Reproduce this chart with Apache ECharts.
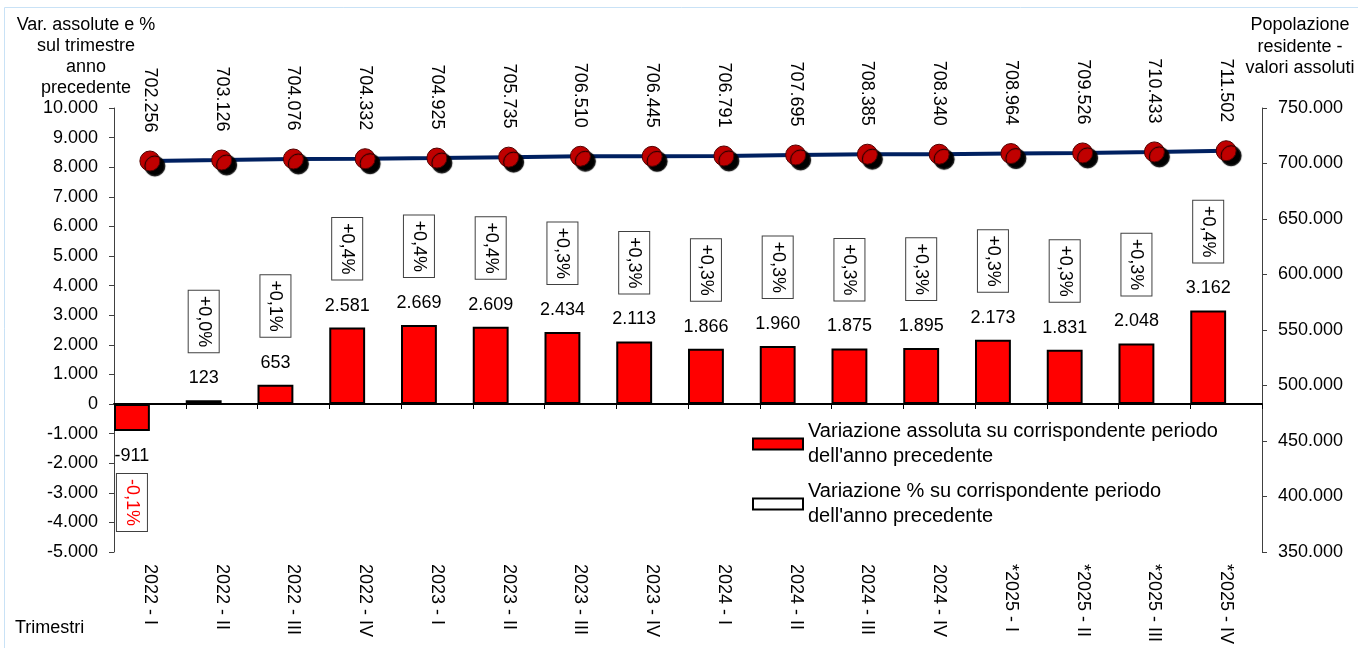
<!DOCTYPE html>
<html><head><meta charset="utf-8">
<script src="https://cdn.jsdelivr.net/npm/echarts@6/dist/echarts.min.js"></script>
<style>html,body{margin:0;padding:0;background:#fff}#c{width:1358px;height:648px}</style>
</head><body><div id="c"></div>
<script>
const categories = ['2022 - I','2022 - II','2022 - III','2022 - IV','2023 - I','2023 - II','2023 - III','2023 - IV','2024 - I','2024 - II','2024 - III','2024 - IV','*2025 - I','*2025 - II','*2025 - III','*2025 - IV'];
const absChange = [-911, 123, 653, 2581, 2669, 2609, 2434, 2113, 1866, 1960, 1875, 1895, 2173, 1831, 2048, 3162];
const pctChange = [-0.1, 0.0, 0.1, 0.4, 0.4, 0.4, 0.3, 0.3, 0.3, 0.3, 0.3, 0.3, 0.3, 0.3, 0.3, 0.4];
const population = [702256, 703126, 704076, 704332, 704925, 705735, 706510, 706445, 706791, 707695, 708385, 708340, 708964, 709526, 710433, 711502];
const leftAxis = {min: -5000, max: 10000, interval: 1000};
const rightAxis = {min: 350000, max: 750000, interval: 50000};

const S_ABS = "Variazione assoluta su corrispondente periodo\ndell'anno precedente";
const S_PCT = "Variazione % su corrispondente periodo\ndell'anno precedente";
const FF = '"Liberation Sans", Arial, sans-serif';

function fmtInt(v) {
  const s = Math.abs(Math.round(v)).toString().replace(/\B(?=(\d{3})+(?!\d))/g, '.');
  return (v < 0 ? '-' : '') + s;
}
function fmtPct(p) {
  return (p < 0 ? '-' : '+') + Math.abs(p).toFixed(1).replace('.', ',') + '%';
}

const chart = echarts.init(document.getElementById('c'));
const axisCol = '#404040';
const legendText = {fontSize: 20, fontFamily: FF, color: '#000', lineHeight: 25, padding: [25, 0, 0, 0]};

chart.setOption({
  animation: false,
  backgroundColor: '#fff',
  grid: {left: 114, right: 96, top: 108, bottom: 96, containLabel: false, outerBoundsMode: 'none'},
  legend: [
    {data: [{name: S_ABS, icon: 'rect'}], left: 752, top: 406.5, padding: 0, orient: 'vertical',
     itemWidth: 50, itemHeight: 11, selectedMode: false, textStyle: legendText},
    {data: [{name: S_PCT, icon: 'rect', itemStyle: {color: '#fff', borderColor: '#000', borderWidth: 2}}],
     left: 752, top: 466.5, padding: 0, orient: 'vertical',
     itemWidth: 50, itemHeight: 11, selectedMode: false, textStyle: legendText}
  ],
  xAxis: [
    {type: 'category', data: categories, position: 'bottom',
     axisLine: {show: false, onZero: false}, axisTick: {show: false},
     axisLabel: {rotate: -90, margin: 12, fontSize: 18, fontFamily: FF, color: '#000', interval: 0}},
    {type: 'category', data: categories, position: 'bottom',
     axisLine: {show: true, onZero: true, lineStyle: {color: '#000', width: 2}},
     axisTick: {show: true, length: 5, lineStyle: {color: '#000', width: 1}},
     axisLabel: {show: false}}
  ],
  yAxis: [
    {type: 'value', position: 'left', min: leftAxis.min, max: leftAxis.max, interval: leftAxis.interval,
     splitLine: {show: false},
     axisLine: {show: true, lineStyle: {color: axisCol, width: 1}},
     axisTick: {show: true, length: 5, lineStyle: {color: axisCol}},
     axisLabel: {margin: 16, fontSize: 18, fontFamily: FF, color: '#000', formatter: v => fmtInt(v)}},
    {type: 'value', position: 'right', min: rightAxis.min, max: rightAxis.max, interval: rightAxis.interval,
     splitLine: {show: false},
     axisLine: {show: true, lineStyle: {color: axisCol, width: 1}},
     axisTick: {show: true, length: 5, lineStyle: {color: axisCol}},
     axisLabel: {margin: 16, fontSize: 18, fontFamily: FF, color: '#000', formatter: v => fmtInt(v)}}
  ],
  series: [
    {name: S_ABS, type: 'bar', xAxisIndex: 0, yAxisIndex: 0, barWidth: '50%', barGap: '0%',
     data: absChange.map(v => v < 0 ? {value: v, label: {position: 'bottom', distance: 16}} : v),
     itemStyle: {color: '#ff0000', borderColor: '#000', borderWidth: 2},
     label: {show: true, position: 'top', distance: 13, fontSize: 18, fontFamily: FF, color: '#000',
             formatter: p => fmtInt(p.value)},
     z: 2},
    {name: S_PCT, type: 'bar', xAxisIndex: 0, yAxisIndex: 0, barWidth: '50%', barGap: '0%',
     data: pctChange, silent: true,
     itemStyle: {color: 'rgba(0,0,0,0)', borderWidth: 0}, z: 1},
    {name: 'pctBoxes', type: 'custom', xAxisIndex: 0, yAxisIndex: 0, silent: true, clip: false,
     data: absChange.map((v, i) => [i, v, pctChange[i]]),
     encode: {x: 0, y: 1},
     renderItem: function (params, api) {
       const i = api.value(0), v = api.value(1), p = api.value(2);
       const pt = api.coord([i, v]);
       const bw = api.size([1, 0])[0];
       const neg = v < 0;
       return {
         type: 'text',
         x: pt[0] - bw / 4,
         y: neg ? pt[1] + 43 : pt[1] - 48,
         rotation: -Math.PI / 2,
         z2: 10,
         style: {
           text: fmtPct(p), font: '18px ' + FF, fill: neg ? '#ff0000' : '#000',
           align: neg ? 'left' : 'right', textAlign: neg ? 'left' : 'right',
           verticalAlign: 'middle', textVerticalAlign: 'middle',
           backgroundColor: '#fff', borderColor: '#404040', borderWidth: 1, padding: [6, 5]
         }
       };
     }, z: 5},
    {name: 'Popolazione residente', type: 'line', xAxisIndex: 0, yAxisIndex: 1, data: population,
     lineStyle: {color: '#002060', width: 4}, symbol: 'circle', symbolSize: 20,
     itemStyle: {color: '#c00000', borderColor: '#500000', borderWidth: 1,
                 shadowColor: '#000', shadowBlur: 1, shadowOffsetX: 5, shadowOffsetY: 5},
     label: {show: true, position: 'top', distance: 18, rotate: -90, align: 'right', verticalAlign: 'middle',
             fontSize: 18, fontFamily: FF, color: '#000', formatter: p => fmtInt(p.value)},
     z: 6}
  ],
  graphic: [
    {type: 'rect', silent: true, z: -10, shape: {x: 4.5, y: 7.5, width: 1360, height: 660},
     style: {fill: 'none', stroke: '#c9e2f6', lineWidth: 1}},
    {type: 'text', silent: true, x: 86, y: 14.5,
     style: {text: 'Var. assolute e %\nsul trimestre\nanno\nprecedente', font: '18px ' + FF, fill: '#000',
             align: 'center', textAlign: 'center', verticalAlign: 'top', textVerticalAlign: 'top', lineHeight: 21}},
    {type: 'text', silent: true, x: 1300, y: 14.5,
     style: {text: 'Popolazione\nresidente -\nvalori assoluti', font: '18px ' + FF, fill: '#000',
             align: 'center', textAlign: 'center', verticalAlign: 'top', textVerticalAlign: 'top', lineHeight: 21.5}},
    {type: 'text', silent: true, x: 15, y: 628,
     style: {text: 'Trimestri', font: '18px ' + FF, fill: '#000',
             align: 'left', textAlign: 'left', verticalAlign: 'middle', textVerticalAlign: 'middle'}}
  ]
});
</script>
</body></html>
